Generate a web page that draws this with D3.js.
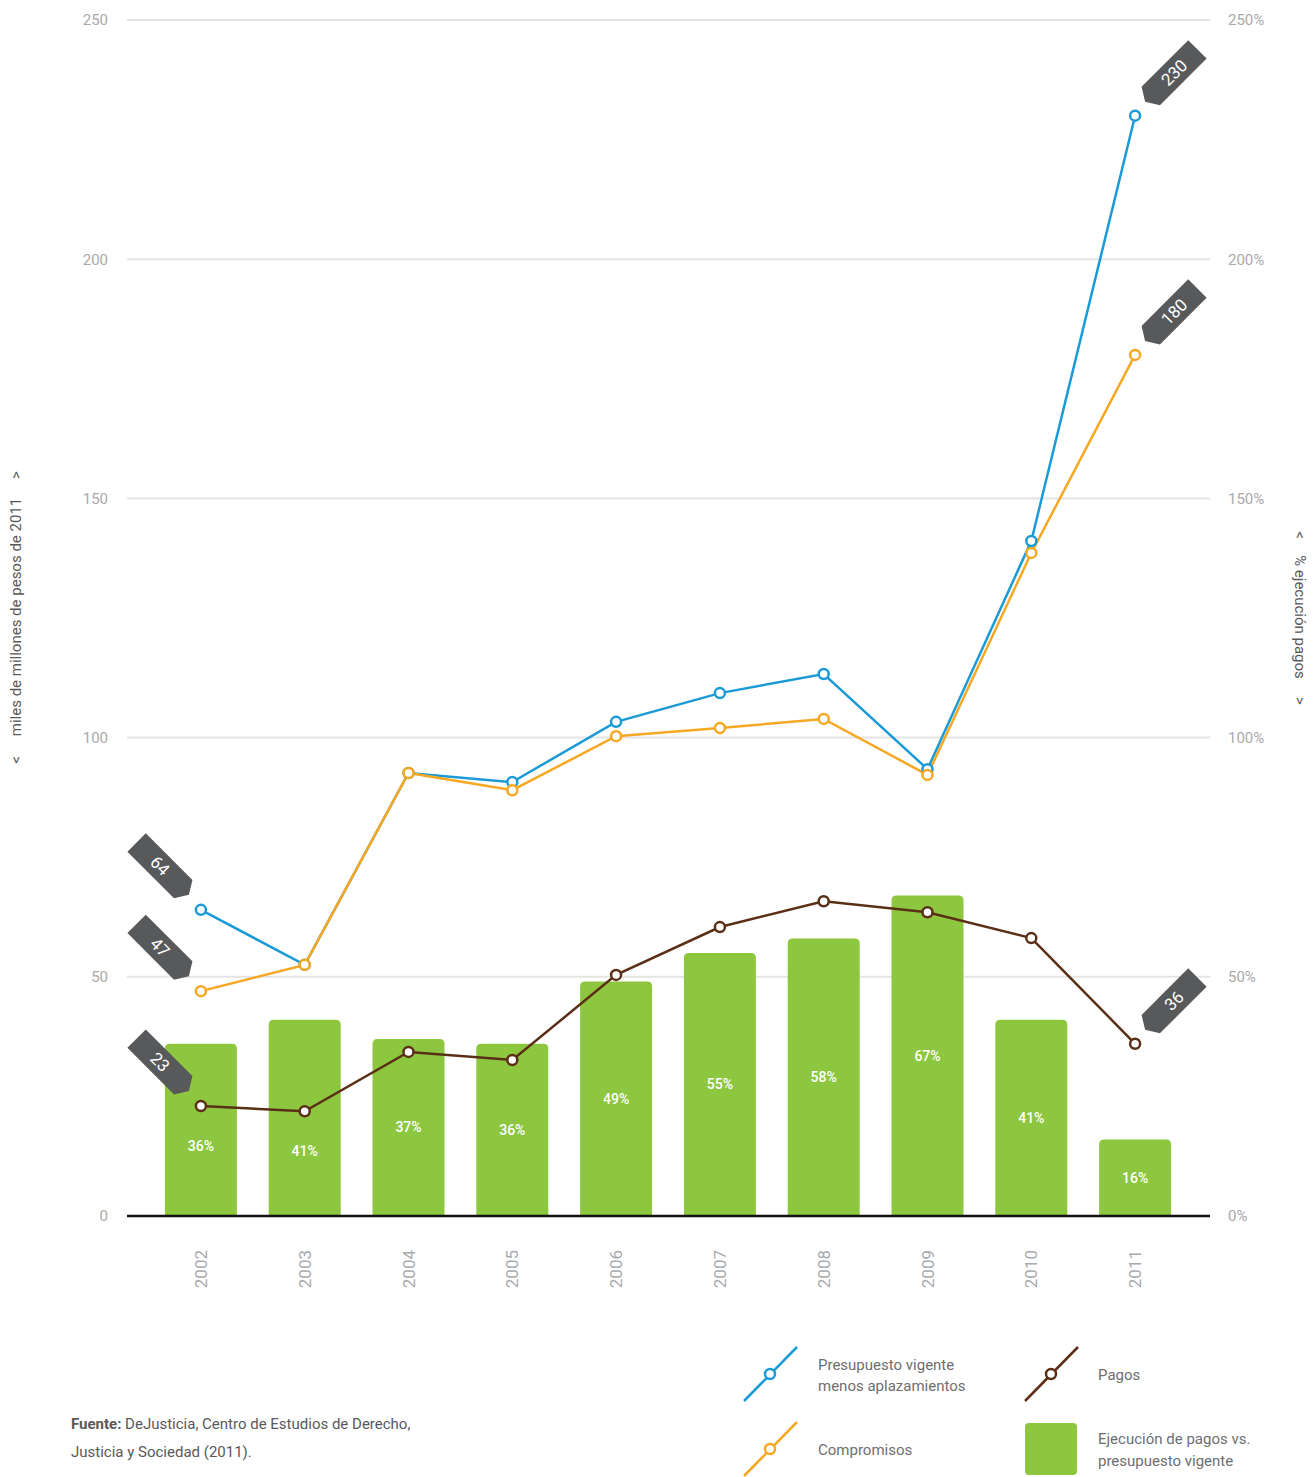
<!DOCTYPE html>
<html>
<head>
<meta charset="utf-8">
<script src="https://cdn.jsdelivr.net/npm/d3@7"></script>
<style>
  html, body { margin: 0; padding: 0; background: #fff; }
  svg { display: block; font-family: Roboto, "Noto Sans", sans-serif; }
</style>
</head>
<body>
<svg id="chart" width="1315" height="1477"></svg>
<script>
// Years on the horizontal axis
const years = ["2002", "2003", "2004", "2005", "2006", "2007", "2008", "2009", "2010", "2011"];
// Presupuesto vigente menos aplazamientos (miles de millones de pesos de 2011)
const presupuesto = [64, 52.5, 92.6, 90.7, 103.3, 109.3, 113.3, 93.4, 141.1, 230];
// Compromisos
const compromisos = [47, 52.5, 92.6, 89.0, 100.3, 102.0, 103.9, 92.2, 138.6, 180];
// Pagos
const pagos = [23, 21.9, 34.3, 32.6, 50.4, 60.4, 65.8, 63.5, 58.1, 36];
// Ejecución de pagos vs. presupuesto vigente (%)
const ejecucion = [36, 41, 37, 36, 49, 55, 58, 67, 41, 16];
// Axis ticks
const leftTicks = [0, 50, 100, 150, 200, 250];
const rightTicks = [0, 50, 100, 150, 200, 250];

const C = {
  blue: "#1a9bd7",
  orange: "#f7a823",
  brown: "#5a2f16",
  green: "#8dc63f",
  tag: "#58595b",
  grid: "#e4e4e4",
  tick: "#a7a9ac",
  text: "#58595b"
};

const svg = d3.select("#chart");

const x = d3.scalePoint().domain(years).range([149, 1187]).padding(0.5);
const y = d3.scaleLinear().domain([0, 250]).range([1216, 20]);
const plotLeft = 127, plotRight = 1210;
const barW = 72;

// Grid lines
svg.append("g").selectAll("line").data(leftTicks.filter(d => d > 0)).join("line")
  .attr("x1", plotLeft).attr("x2", plotRight)
  .attr("y1", d => y(d)).attr("y2", d => y(d))
  .attr("stroke", C.grid).attr("stroke-width", 2);

// Left axis
const leftAxis = svg.append("g").attr("transform", `translate(${plotLeft},0)`)
  .call(d3.axisLeft(y).tickValues(leftTicks).tickSize(0).tickPadding(19));
leftAxis.select(".domain").remove();
leftAxis.selectAll("text").attr("fill", C.tick).style("font-size", "15px").style("font-family", "Roboto, sans-serif");

// Right axis
const rightAxis = svg.append("g").attr("transform", `translate(${plotRight},0)`)
  .call(d3.axisRight(y).tickValues(rightTicks).tickSize(0).tickPadding(18).tickFormat(d => d + "%"));
rightAxis.select(".domain").remove();
rightAxis.selectAll("text").attr("fill", C.tick).style("font-size", "15px").style("font-family", "Roboto, sans-serif");

// Bars: top corners rounded, flat base
function barPath(cx, v) {
  const x0 = cx - barW / 2, x1 = cx + barW / 2, y0 = y(0), yt = y(v), r = 5;
  return `M${x0},${y0}V${yt + r}Q${x0},${yt} ${x0 + r},${yt}H${x1 - r}Q${x1},${yt} ${x1},${yt + r}V${y0}Z`;
}
svg.append("g").selectAll("path").data(ejecucion).join("path")
  .attr("d", (d, i) => barPath(x(years[i]), d))
  .attr("fill", C.green);

// Bar value labels: centred in the bar, kept clear of the Pagos line
svg.append("g").selectAll("text").data(ejecucion).join("text")
  .attr("x", (d, i) => x(years[i]))
  .attr("y", (d, i) => Math.max((y(0) + y(d)) / 2, y(pagos[i]) + 40))
  .attr("text-anchor", "middle").attr("dominant-baseline", "central")
  .attr("fill", "#fff").style("font-size", "14px").style("font-weight", "500")
  .text(d => d + "%");

// Baseline
svg.append("line").attr("x1", plotLeft).attr("x2", plotRight)
  .attr("y1", y(0)).attr("y2", y(0)).attr("stroke", "#111").attr("stroke-width", 2.5);

// Year labels
svg.append("g").selectAll("text").data(years).join("text")
  .attr("transform", d => `translate(${x(d) + 6},1250) rotate(-90)`)
  .attr("text-anchor", "end")
  .attr("fill", C.tick).style("font-size", "17px")
  .text(d => d);

// Lines with hollow markers
const series = [
  { values: presupuesto, color: C.blue },
  { values: compromisos, color: C.orange },
  { values: pagos, color: C.brown }
];
const line = d3.line().x((d, i) => x(years[i])).y(d => y(d));
series.forEach(s => {
  svg.append("path").datum(s.values).attr("d", line)
    .attr("fill", "none").attr("stroke", s.color).attr("stroke-width", 2.5);
});
series.forEach(s => {
  svg.append("g").selectAll("circle").data(s.values).join("circle")
    .attr("cx", (d, i) => x(years[i])).attr("cy", d => y(d)).attr("r", 5)
    .attr("fill", "#fff").attr("stroke", s.color).attr("stroke-width", 2.5);
});

// Value tags at the first and last year of each line
function tag(i, v, side) {
  const px = x(years[i]), py = y(v);
  const g = svg.append("g");
  if (side === "left") {
    g.attr("transform", `translate(${px - 12},${py - 15}) rotate(45)`);
    g.append("path").attr("d", "M0,0L-8,-13H-74V13H-8Z").attr("fill", C.tag);
    g.append("text").attr("x", -41).attr("y", 0)
      .attr("text-anchor", "middle").attr("dominant-baseline", "central")
      .attr("fill", "#fff").style("font-size", "17px").text(v);
  } else {
    g.attr("transform", `translate(${px + 10},${py - 14}) rotate(-45)`);
    g.append("path").attr("d", "M0,0L8,-13H74V13H8Z").attr("fill", C.tag);
    g.append("text").attr("x", 41).attr("y", 0)
      .attr("text-anchor", "middle").attr("dominant-baseline", "central")
      .attr("fill", "#fff").style("font-size", "17px").text(v);
  }
}
series.forEach(s => {
  tag(0, s.values[0], "left");
  tag(years.length - 1, s.values[years.length - 1], "right");
});

// Axis titles with arrow marks at each end
function axisTitle(cx, cy, angle, label, startY, endY) {
  const g = svg.append("g").attr("fill", C.text).style("font-size", "15px");
  g.append("text").attr("transform", `translate(${cx},${cy}) rotate(${angle})`)
    .attr("text-anchor", "middle").attr("dominant-baseline", "central").text(label);
  g.append("text").attr("transform", `translate(${cx},${startY}) rotate(${angle})`)
    .attr("text-anchor", "middle").attr("dominant-baseline", "central").text("<");
  g.append("text").attr("transform", `translate(${cx},${endY}) rotate(${angle})`)
    .attr("text-anchor", "middle").attr("dominant-baseline", "central").text(">");
}
axisTitle(16, 617, -90, "miles de millones de pesos de 2011", 760, 475);
axisTitle(1300, 617, 90, "% ejecución pagos", 535, 701);

// Legend
const legend = svg.append("g").style("font-size", "15px").attr("fill", "#6d6e71");
function legendLine(cx, cy, color) {
  legend.append("line").attr("x1", cx - 26).attr("y1", cy + 27).attr("x2", cx + 27).attr("y2", cy - 27)
    .attr("stroke", color).attr("stroke-width", 2.5);
  legend.append("circle").attr("cx", cx).attr("cy", cy).attr("r", 5)
    .attr("fill", "#fff").attr("stroke", color).attr("stroke-width", 2.5);
}
legendLine(770, 1374, C.blue);
legendLine(770, 1449, C.orange);
legendLine(1051, 1374, C.brown);
legend.append("rect").attr("x", 1025).attr("y", 1423).attr("width", 52).attr("height", 52).attr("rx", 4)
  .attr("fill", C.green);
legend.append("text").attr("x", 818).attr("y", 1370).text("Presupuesto vigente");
legend.append("text").attr("x", 818).attr("y", 1391).text("menos aplazamientos");
legend.append("text").attr("x", 818).attr("y", 1455).text("Compromisos");
legend.append("text").attr("x", 1098).attr("y", 1380).text("Pagos");
legend.append("text").attr("x", 1098).attr("y", 1444).text("Ejecución de pagos vs.");
legend.append("text").attr("x", 1098).attr("y", 1466).text("presupuesto vigente");

// Source note
const src = svg.append("text").attr("x", 71).attr("y", 1429).attr("fill", C.text).style("font-size", "15px");
src.append("tspan").style("font-weight", "bold").text("Fuente:");
src.append("tspan").text(" DeJusticia, Centro de Estudios de Derecho,");
svg.append("text").attr("x", 71).attr("y", 1457).attr("fill", C.text).style("font-size", "15px")
  .text("Justicia y Sociedad (2011).");
</script>
</body>
</html>
